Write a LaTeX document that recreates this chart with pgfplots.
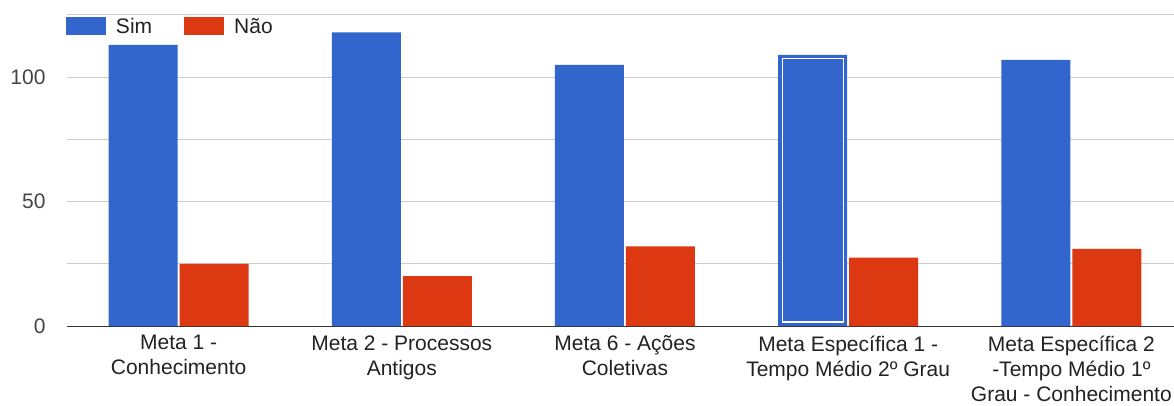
\documentclass[border=0pt]{standalone}
\usepackage{pgfplots}
\pgfplotsset{compat=1.18}
\usepackage{fontspec}
\setmainfont{Liberation Sans}
\definecolor{gblue}{HTML}{3366CC}
\definecolor{gred}{HTML}{DC3912}
\definecolor{gridc}{HTML}{CCCCCC}
\definecolor{axc}{HTML}{333333}
\definecolor{txt}{HTML}{222222}
\definecolor{ytxt}{HTML}{444444}
\begin{document}
\begin{tikzpicture}
\useasboundingbox (0,0) rectangle (1174pt,405pt);
\begin{axis}[
  at={(67pt,79pt)}, anchor=south west,
  scale only axis,
  width=1116pt, height=311pt,
  xmin=-0.5, xmax=4.5,
  ymin=0, ymax=125,
  ybar=2pt, bar width=69pt,
  axis x line*=bottom, axis y line*=left,
  y axis line style={draw=none},
  x axis line style={color=axc, line width=1pt, -},
  xtick={0,1,2,3,4},
  xticklabels={{Meta 1 -\\Conhecimento},{Meta 2 - Processos\\Antigos},{Meta 6 - Ações\\Coletivas},{Meta Específica 1 -\\Tempo Médio 2º Grau},{Meta Específica 2\\-Tempo Médio 1º\\Grau - Conhecimento}},
  xticklabel style={align=center, font=\fontsize{21}{25}\selectfont, text=txt, yshift=-6pt},
  major tick length=0pt,
  ytick={0,25,50,75,100,125},
  yticklabels={0,,50,,100,},
  yticklabel style={font=\fontsize{21}{24}\selectfont, text=ytxt, xshift=-18pt},
  ymajorgrids,
  grid style={gridc, line width=1pt},
  /pgf/number format/assume math mode=true,
  clip=false,
  legend style={at={(rel axis cs:0,1)}, anchor=north west, draw=none, fill=none,
    inner sep=0pt, outer sep=0pt, yshift=-1pt, xshift=-1pt,
    font=\fontsize{21}{24}\selectfont, text=txt,
    /tikz/every even column/.append style={column sep=30pt}},
  legend columns=2,
  legend image code/.code={\fill[#1,draw=none] (0pt,-9pt) rectangle (40pt,9pt);},
]
\addplot[fill=gblue, draw=none] coordinates {(0,113) (1,118) (2,105) (3,109) (4,107)};
\addplot[fill=gred, draw=none] coordinates {(0,25) (1,20) (2,32) (3,27.5) (4,31)};
\legend{\hspace{8pt}Sim,\hspace{8pt}Não}
\addplot[sharp plot, draw=white, line width=1.2pt, forget plot, bar shift=0pt]
  coordinates {(2.7043,1.6) (2.7043,107.4) (2.9777,107.4) (2.9777,1.6) (2.7043,1.6)};
\end{axis}
\end{tikzpicture}
\end{document}
